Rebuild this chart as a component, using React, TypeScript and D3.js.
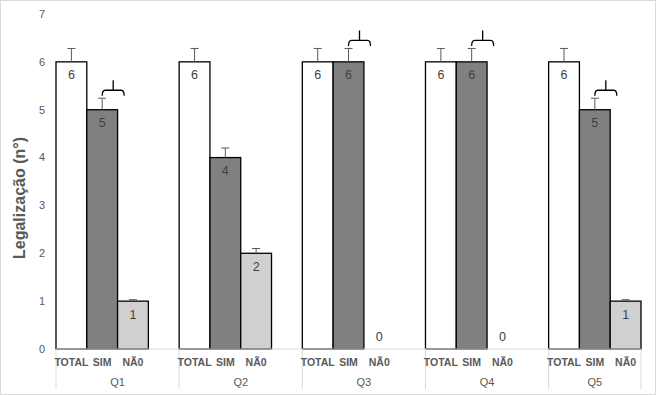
import React from 'react';
import * as d3 from 'd3';

const width = 656;
const height = 395;

const groups = ['Q1', 'Q2', 'Q3', 'Q4', 'Q5'];
const subCats = ['TOTAL', 'SIM', 'NÃ0'];
const totalValues = [6, 6, 6, 6, 6];
const simValues = [5, 4, 6, 6, 5];
const naoValues = [1, 2, 0, 0, 1];
const totalErr = [0.28, 0.28, 0.28, 0.28, 0.28];
const simErr = [0.24, 0.2, 0.28, 0.28, 0.24];
const naoErr = [0.03, 0.1, 0, 0, 0.03];
const bracketGroups = [0, 2, 3, 4];
const yTicks = [0, 1, 2, 3, 4, 5, 6, 7];

const fills = ['#ffffff', '#808080', '#d0d0d0'];
const textGray = '#595959';
const axisGray = '#d9d9d9';
const font = '"Liberation Sans", Arial, sans-serif';

// 4 slots per group (3 bars + gap), last gap dropped
const x = d3.scaleLinear().domain([0, 19]).range([56, 641]);
const y = d3.scaleLinear().domain([0, 7]).range([349, 14]);
const slot = x(1) - x(0);

export default function App() {
  const series = [totalValues, simValues, naoValues];
  const errs = [totalErr, simErr, naoErr];

  const bars = groups.flatMap((g, i) =>
    subCats.map((c, j) => ({
      key: `${g}-${c}`,
      x0: x(i * 4 + j),
      value: series[j][i],
      err: errs[j][i],
      fill: fills[j],
    }))
  );

  return (
    <svg
      width={width}
      height={height}
      style={{ position: 'absolute', left: 0, top: 0, background: '#fff' }}
      fontFamily={font}
    >
      <rect x={0.5} y={0.5} width={width - 1} height={height - 1} fill="#fff" stroke={axisGray} />

      {/* y axis labels */}
      {yTicks.map((t) => (
        <text key={t} x={45} y={y(t)} dy="0.35em" textAnchor="end" fontSize={11} fill={textGray}>
          {t}
        </text>
      ))}
      <text
        transform="translate(25, 198) rotate(-90)"
        textAnchor="middle"
        fontSize={16}
        fontWeight="bold"
        fill={textGray}
      >
        Legalização (n°)
      </text>

      {/* bars */}
      {bars.map((b) =>
        b.value > 0 ? (
          <rect
            key={b.key}
            x={b.x0}
            y={y(b.value)}
            width={slot}
            height={y(0) - y(b.value)}
            fill={b.fill}
            stroke="#000"
            strokeWidth={1.3}
          />
        ) : null
      )}

      {/* error bars */}
      {bars
        .filter((b) => b.value > 0)
        .map((b) => {
          const cx = b.x0 + slot / 2;
          const top = y(b.value + b.err);
          return (
            <g key={`e-${b.key}`} stroke={textGray} strokeWidth={1}>
              <line x1={cx} x2={cx} y1={y(b.value)} y2={top} />
              <line x1={cx - 4} x2={cx + 4} y1={top} y2={top} />
            </g>
          );
        })}

      {/* data labels */}
      {bars.map((b) => (
        <text
          key={`l-${b.key}`}
          x={b.x0 + slot / 2}
          y={b.value > 0 ? y(b.value) + 13 : y(0) - 12}
          dy="0.35em"
          textAnchor="middle"
          fontSize={12.5}
          fill="#404040"
        >
          {b.value}
        </text>
      ))}

      {/* brackets above SIM */}
      {bracketGroups.map((i) => {
        const x1 = x(i * 4 + 1) + slot / 2;
        const x2 = x1 + 22;
        const mid = (x1 + x2) / 2;
        const top = y(simValues[i] + simErr[i]);
        const hy = top - 8;
        const ey = top - 2.5;
        const d = `M${x1},${ey} Q${x1},${hy} ${x1 + 3},${hy} L${x2 - 3},${hy} Q${x2},${hy} ${x2},${ey} M${mid},${hy} L${mid},${top - 18}`;
        return <path key={`b-${i}`} d={d} fill="none" stroke="#000" strokeWidth={1.3} />;
      })}

      {/* category axis */}
      <line x1={x(0)} x2={x(19)} y1={y(0)} y2={y(0)} stroke={axisGray} />
      {[0, 4, 8, 12, 16, 19].map((s) => (
        <line key={`s-${s}`} x1={x(s)} x2={x(s)} y1={y(0)} y2={389} stroke={axisGray} />
      ))}
      {bars.map((b, k) => (
        <text
          key={`c-${b.key}`}
          x={b.x0 + slot / 2}
          y={362}
          dy="0.35em"
          textAnchor="middle"
          fontSize={10.5}
          fontWeight="bold"
          fill={textGray}
        >
          {subCats[k % 3]}
        </text>
      ))}
      {groups.map((g, i) => {
        const left = x(i * 4);
        const right = x(Math.min(i * 4 + 4, 19));
        return (
          <text
            key={g}
            x={(left + right) / 2}
            y={382}
            dy="0.35em"
            textAnchor="middle"
            fontSize={11}
            fill={textGray}
          >
            {g}
          </text>
        );
      })}
    </svg>
  );
}
